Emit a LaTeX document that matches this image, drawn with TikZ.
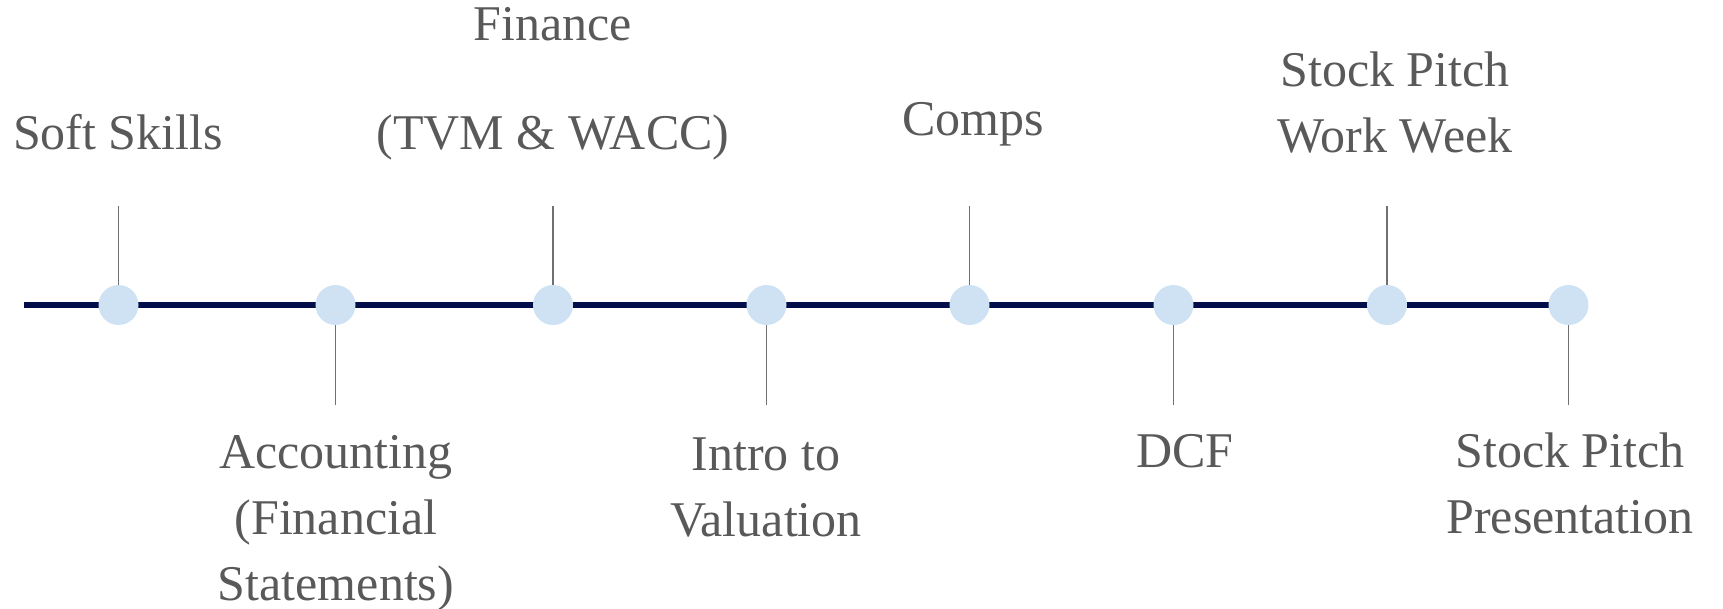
\documentclass[tikz,border=0pt]{standalone}
\usepackage{fontspec}
\setmainfont{Liberation Serif}
\definecolor{navy}{RGB}{2,14,74}
\definecolor{dotblue}{RGB}{207,226,243}
\definecolor{tickgray}{RGB}{112,112,112}
\definecolor{txtgray}{RGB}{89,89,89}
\begin{document}
\begin{tikzpicture}[x=0.5pt,y=-0.5pt,
  dot/.style={circle,fill=dotblue,draw=none,minimum size=20pt,inner sep=0pt},
  tickline/.style={draw=tickgray,line width=0.75pt},
  mainline/.style={draw=navy,line width=3.2pt},
  lbl/.style={text=txtgray,font=\fontsize{25}{33}\selectfont,align=center,inner sep=0pt,anchor=north}]
\useasboundingbox (0,0) rectangle (1723,609);
% main line
\coordinate (ls) at (24,305);
\coordinate (le) at (1586,305);
\draw[mainline] (ls) -- (le);
% dots
\node[dot] (d1) at (118.5,305) {};
\node[dot] (d2) at (335.5,305) {};
\node[dot] (d3) at (553,305) {};
\node[dot] (d4) at (766.5,305) {};
\node[dot] (d5) at (969.5,305) {};
\node[dot] (d6) at (1173.5,305) {};
\node[dot] (d7) at (1387,305) {};
\node[dot] (d8) at (1568.5,305) {};
% tick ends
\coordinate (t1) at (118.5,206);
\coordinate (t2) at (335.5,405);
\coordinate (t3) at (553,206);
\coordinate (t4) at (766.5,405);
\coordinate (t5) at (969.5,206);
\coordinate (t6) at (1173.5,405);
\coordinate (t7) at (1387,206);
\coordinate (t8) at (1568.5,405);
\draw[tickline] (d1.north) -- (t1);
\draw[tickline] (d2.south) -- (t2);
\draw[tickline] (d3.north) -- (t3);
\draw[tickline] (d4.south) -- (t4);
\draw[tickline] (d5.north) -- (t5);
\draw[tickline] (d6.south) -- (t6);
\draw[tickline] (d7.north) -- (t7);
\draw[tickline] (d8.south) -- (t8);
% labels (north = first baseline - 46.2px)
\node[lbl] (l1) at (118,102.8) {\strut Soft Skills};
\node[lbl] (l3) at (553,-6.2) {\strut Finance\\[21.5pt]\strut (TVM \& WACC)};
\node[lbl] (l5) at (973,88.8) {\strut Comps};
\node[lbl] (l7) at (1395,39.8) {\strut Stock Pitch\\\strut Work Week};
\node[lbl] (l2) at (336,421.8) {\strut Accounting\\\strut (Financial\\\strut Statements)};
\node[lbl] (l4) at (766,423.8) {\strut Intro to\\\strut Valuation};
\node[lbl] (l6) at (1185,420.8) {\strut DCF};
\node[lbl] (l8) at (1570,420.8) {\strut Stock Pitch\\\strut Presentation};
\end{tikzpicture}
\end{document}
